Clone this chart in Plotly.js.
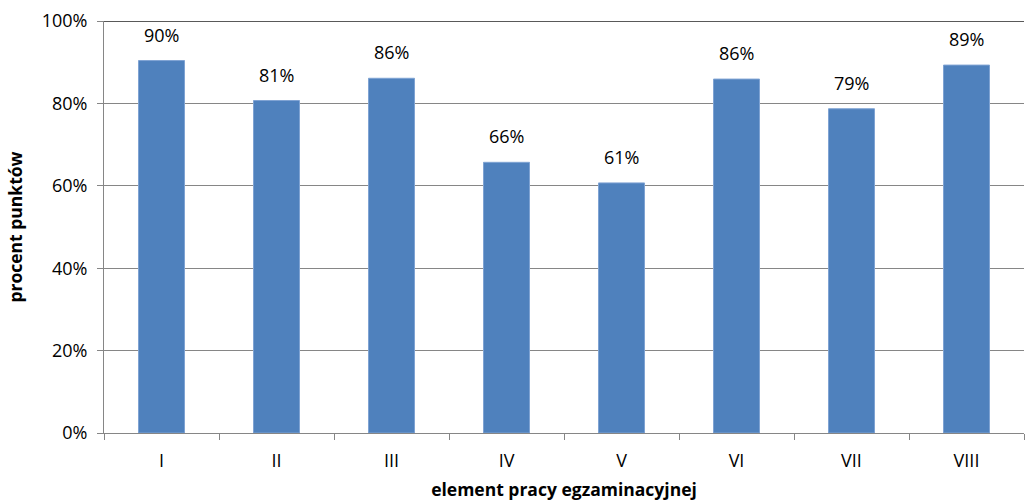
<!DOCTYPE html>
<html>
<head>
<meta charset="utf-8">
<script src="https://cdn.plot.ly/plotly-3.0.1.min.js"></script>
<style>html,body{margin:0;padding:0;background:#fff}#chart{width:1027px;height:504px}</style>
</head>
<body>
<div id="chart"></div>
<script>
const categories = ['I','II','III','IV','V','VI','VII','VIII'];
const values = [90.4, 80.7, 86.1, 65.7, 60.7, 85.9, 78.7, 89.3];
const yTickVals = [0, 20, 40, 60, 80, 100];
const yTickText = ['0%', '20%', '40%', '60%', '80%', '100%'];
const xTitle = 'element pracy egzaminacyjnej';
const yTitle = 'procent punktów';

const font = "'Open Sans', sans-serif";
const trace = {
  type: 'bar', x: categories, y: values,
  width: 0.4,
  marker: {color: '#4F81BD', line: {color: '#7FA3D3', width: 1}},
  hoverinfo: 'none'
};
const annotations = categories.map((c, i) => ({
  x: c, y: values[i], xref: 'x', yref: 'y',
  text: Math.round(values[i]) + '%', showarrow: false,
  yanchor: 'bottom', yshift: 12,
  font: {family: font, size: 18, color: '#000'}
}));
const layout = {
  width: 1027, height: 504,
  margin: {l: 104, r: 3, t: 21, b: 71},
  paper_bgcolor: '#fff', plot_bgcolor: '#fff',
  showlegend: false,
  font: {family: font, color: '#000'},
  xaxis: {
    type: 'category', tickson: 'boundaries',
    ticks: 'outside', ticklen: 6, tickcolor: '#868686', tickwidth: 1,
    showline: true, linecolor: '#868686', linewidth: 1,
    showgrid: false, zeroline: false,
    tickfont: {family: font, size: 18, color: '#000'},
    ticklabelstandoff: 11,
    title: {text: xTitle, font: {family: font, size: 17.5, color: '#000', weight: 'bold'}, standoff: 13}
  },
  yaxis: {
    range: [0, 100], tickvals: yTickVals, ticktext: yTickText,
    ticks: 'outside', ticklen: 6, tickcolor: '#868686', tickwidth: 1,
    showline: true, linecolor: '#868686', linewidth: 1,
    showgrid: true, gridcolor: '#868686', gridwidth: 1,
    zeroline: false,
    tickfont: {family: font, size: 18, color: '#000'},
    ticklabelstandoff: 6,
    title: {text: yTitle, font: {family: font, size: 17.5, color: '#000', weight: 'bold'}, standoff: 14}
  },
  shapes: [{type: 'line', xref: 'paper', yref: 'y', x0: 0, x1: 1, y0: 100, y1: 100, line: {color: '#222', width: 1.3}}],
  annotations: annotations
};
Plotly.newPlot('chart', [trace], layout, {displayModeBar: false, staticPlot: true});
</script>
</body>
</html>
